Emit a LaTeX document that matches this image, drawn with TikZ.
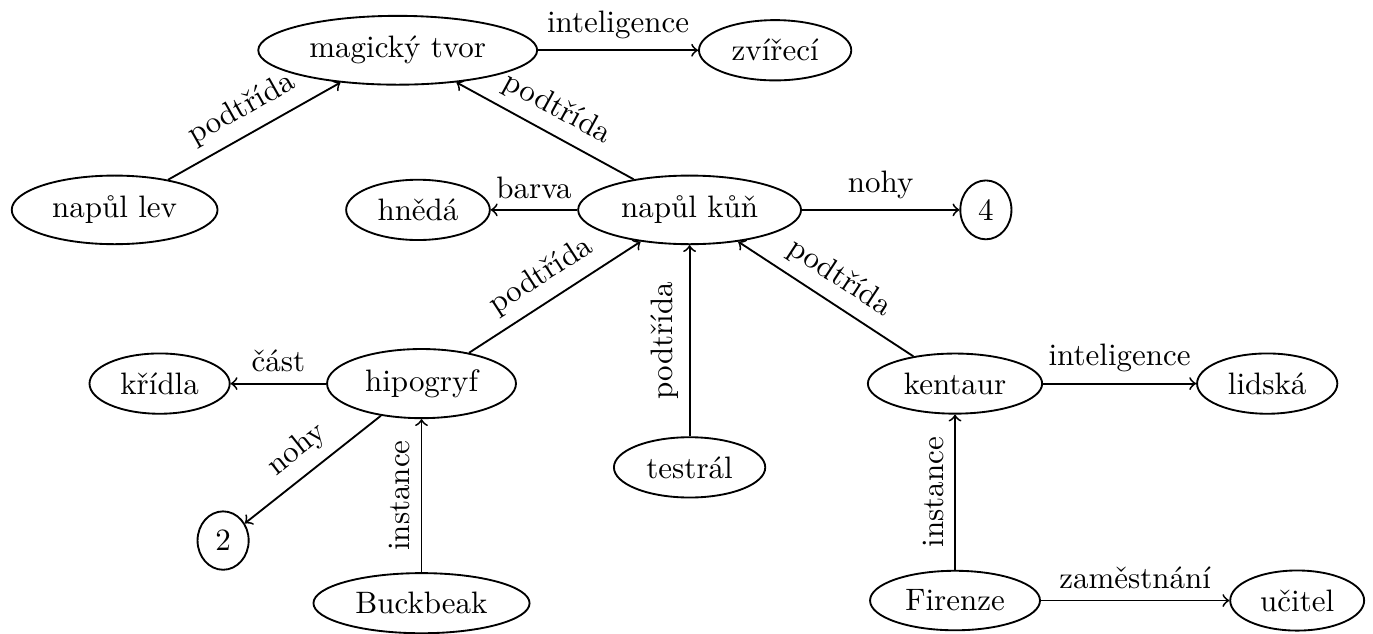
\documentclass[tikz,border=0pt]{standalone}
\usetikzlibrary{shapes.geometric}
\tikzset{
  ent/.style={ellipse,draw,semithick},
  arr/.style={->,semithick},
  lbl/.style={sloped,above},
}
\begin{document}
\begin{tikzpicture}
  \useasboundingbox (0,0) rectangle (15.57,7.18);
  \node[ent] (tvor) at (4.51,6.61) {magický tvor};
  \node[ent] (zvireci) at (8.79,6.61) {zvířecí};
  \node[ent] (lev) at (1.30,4.80) {napůl lev};
  \node[ent] (hneda) at (4.74,4.80) {hnědá};
  \node[ent] (kun) at (7.82,4.80) {napůl kůň};
  \node[ent] (ctyri) at (11.18,4.80) {4};
  \node[ent] (kridla) at (1.81,2.83) {křídla};
  \node[ent] (hipo) at (4.78,2.83) {hipogryf};
  \node[ent] (testral) at (7.82,1.88) {testrál};
  \node[ent] (kentaur) at (10.83,2.83) {kentaur};
  \node[ent] (lidska) at (14.37,2.83) {lidská};
  \node[ent] (dve) at (2.53,1.05) {2};
  \node[ent] (buck) at (4.78,0.34) {Buckbeak};
  \node[ent] (firenze) at (10.83,0.37) {Firenze};
  \node[ent] (ucitel) at (14.71,0.37) {učitel};

  \draw[arr] (tvor) -- node[lbl]{inteligence} (zvireci);
  \draw[arr] (lev) -- node[lbl]{podtřída} (tvor);
  \draw[arr] (kun) -- node[lbl]{podtřída} (tvor);
  \draw[arr] (kun) -- node[lbl]{barva} (hneda);
  \draw[arr] (kun) -- node[lbl]{nohy} (ctyri);
  \draw[arr] (hipo) -- node[lbl]{podtřída} (kun);
  \draw[arr] (testral) -- node[lbl]{podtřída} (kun);
  \draw[arr] (kentaur) -- node[lbl]{podtřída} (kun);
  \draw[arr] (hipo) -- node[lbl]{část} (kridla);
  \draw[arr] (hipo) -- node[lbl]{nohy} (dve);
  \draw[arr] (buck) -- node[lbl]{instance} (hipo);
  \draw[arr] (kentaur) -- node[lbl]{inteligence} (lidska);
  \draw[arr] (firenze) -- node[lbl]{instance} (kentaur);
  \draw[arr] (firenze) -- node[lbl]{zaměstnání} (ucitel);
\end{tikzpicture}
\end{document}
